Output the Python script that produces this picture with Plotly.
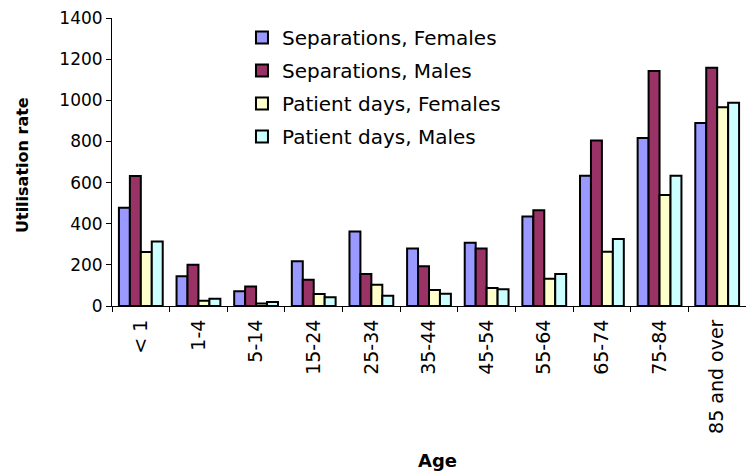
import plotly.graph_objects as go

categories = ["< 1", "1-4", "5-14", "15-24", "25-34", "35-44", "45-54", "55-64", "65-74", "75-84", "85 and over"]
sep_females = [477, 145, 72, 218, 362, 280, 307, 435, 633, 817, 890]
sep_males = [632, 200, 95, 128, 155, 193, 280, 465, 804, 1142, 1158]
pd_females = [262, 25, 12, 58, 103, 78, 88, 133, 264, 540, 966]
pd_males = [313, 35, 20, 42, 50, 60, 82, 155, 326, 633, 988]

series = [
    ("Separations, Females", sep_females, "#9999FF"),
    ("Separations, Males", sep_males, "#993366"),
    ("Patient days, Females", pd_females, "#FFFFCC"),
    ("Patient days, Males", pd_males, "#CCFFFF"),
]

fig = go.Figure()
for i, (name, vals, col) in enumerate(series):
    fig.add_trace(go.Bar(name=name, x=categories, y=vals, legendgroup=f"g{i}",
                         marker=dict(color=col, line=dict(color="black", width=2))))

font = "DejaVu Sans, Liberation Sans, Arial, sans-serif"
fig.update_layout(
    width=746, height=474,
    margin=dict(l=112, r=0, t=18, b=168),
    paper_bgcolor="white", plot_bgcolor="white",
    barmode="group", bargap=0.24, bargroupgap=0,
    font=dict(family=font, size=17, color="black"),
    showlegend=True,
    legend=dict(x=0.205, y=1.0, xanchor="left", yanchor="top",
                bgcolor="rgba(0,0,0,0)", font=dict(size=20),
                tracegroupgap=4, itemsizing="constant", itemwidth=30),
    xaxis=dict(tickangle=-90, showline=True, linecolor="black", linewidth=1,
               ticks="outside", tickson="boundaries", ticklen=5, tickcolor="black",
               showgrid=False, tickfont=dict(size=19), ticklabelstandoff=5),
    yaxis=dict(range=[0, 1400], dtick=200, showline=True, linecolor="black", linewidth=1,
               ticks="outside", ticklen=5, tickcolor="black", showgrid=False, zeroline=False,
               tickfont=dict(size=17)),
    annotations=[
        dict(text="<b>Age</b>", xref="paper", yref="paper", x=(437 - 112) / 634, y=(306 - 460) / 288,
             xanchor="center", yanchor="middle", showarrow=False, font=dict(size=18)),
        dict(text="<b>Utilisation rate</b>", xref="paper", yref="paper", x=(22 - 112) / 634, y=(306 - 165) / 288,
             xanchor="center", yanchor="middle", showarrow=False, textangle=-90, font=dict(size=16)),
    ],
)
fig.write_html("out.html")
